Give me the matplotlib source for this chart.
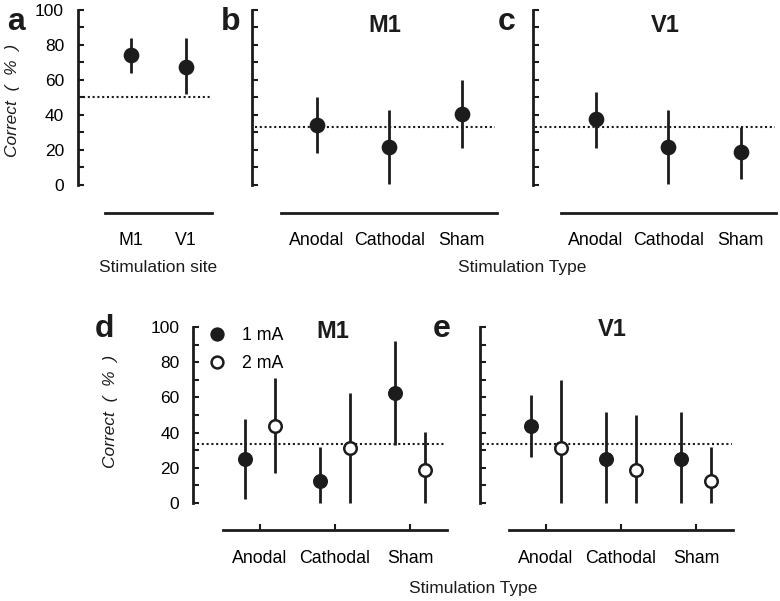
import numpy as np
import matplotlib
matplotlib.use('Agg')
import matplotlib.pyplot as plt

plt.rcParams['font.family'] = ['Liberation Sans', 'DejaVu Sans']

# ---- data ----
site_labels = ['M1', 'V1']
site_mean = [74.0, 67.5]
site_lo = [64.0, 52.0]
site_hi = [84.0, 84.0]

type_labels = ['Anodal', 'Cathodal', 'Sham']
m1_mean = [34.3, 21.9, 40.6]
m1_lo = [18.0, 0.5, 21.0]
m1_hi = [50.0, 43.0, 60.0]
v1_mean = [37.5, 21.9, 18.7]
v1_lo = [21.3, 0.5, 3.4]
v1_hi = [53.3, 43.0, 33.3]

m1_1ma_mean = [24.7, 12.4, 62.4]
m1_1ma_lo = [2.1, 0.0, 32.9]
m1_1ma_hi = [47.7, 31.9, 92.4]
m1_2ma_mean = [43.7, 31.4, 18.6]
m1_2ma_lo = [16.8, 0.0, 0.0]
m1_2ma_hi = [70.9, 62.7, 40.5]

v1_1ma_mean = [43.7, 24.7, 24.7]
v1_1ma_lo = [25.9, 0.0, 0.0]
v1_1ma_hi = [61.4, 51.9, 51.9]
v1_2ma_mean = [31.0, 18.6, 12.4]
v1_2ma_lo = [0.0, 0.0, 0.0]
v1_2ma_hi = [70.0, 50.0, 31.9]

chance_site = 50.0
chance_type = 100.0 / 3

W, H = 780, 601
INK = '#1c1c1c'
fig = plt.figure(figsize=(W / 100, H / 100), dpi=100)


def px_axes(l, r, t, b):
    return fig.add_axes([l / W, 1 - b / H, (r - l) / W, (b - t) / H])


def ptext(x, y, s, **kw):
    fig.text(x / W, 1 - y / H, s, ha='center', va='center', **kw)


def style(ax, xlim, xbounds, ticks_up, ylabels=True):
    ax.set_xlim(*xlim)
    ax.set_ylim(0, 100)
    for s in ['top', 'right']:
        ax.spines[s].set_visible(False)
    ax.spines['left'].set_linewidth(2)
    ax.spines['bottom'].set_linewidth(2)
    ax.spines['bottom'].set_position(('outward', 20))
    ax.spines['bottom'].set_bounds(*xbounds)
    ax.spines['left'].set_color(INK)
    ax.spines['bottom'].set_color(INK)
    ax.set_yticks(np.arange(0, 101, 20))
    ax.set_yticks(np.arange(10, 100, 20), minor=True)
    ax.tick_params(axis='y', which='both', direction='in', length=4, width=1.5,
                   color=INK, labelsize=12.5, pad=10, labelleft=ylabels)
    ax.tick_params(axis='x', direction='in', length=4 if ticks_up else 0,
                   width=1.5, color=INK, labelsize=12.8, pad=14)
    ax.patch.set_alpha(0)


def errs(ax, x, mean, lo, hi, face, ms):
    mean = np.asarray(mean)
    yerr = [mean - np.asarray(lo), np.asarray(hi) - mean]
    ax.errorbar(x, mean, yerr=yerr, fmt='o', ms=ms, mfc=face, mec=INK,
                mew=1.8, color=INK, elinewidth=2, capsize=0, clip_on=False,
                zorder=3)


# ---- panel a ----
ax = px_axes(78, 215, 10, 185)
xs = np.arange(len(site_labels))
errs(ax, xs, site_mean, site_lo, site_hi, INK, 9.5)
ax.axhline(chance_site, 0.036, 0.978, color=INK, ls=(0, (1, 1.3)), lw=1.5)
style(ax, (-0.964, 1.527), (-0.473, 1.473), False)
ax.set_xticks(xs)
ax.set_xticklabels(site_labels)

# ---- panel b / c ----
xs = np.arange(len(type_labels))
for (l, r, pos0, step), mean, lo, hi, span in [
        ((252, 497, 316.7, 72.5), m1_mean, m1_lo, m1_hi, (0.012, 0.992)),
        ((532.7, 776, 596, 72.3), v1_mean, v1_lo, v1_hi, (0.01, 0.996))]:
    ax = px_axes(l, r, 10, 185)
    errs(ax, xs, mean, lo, hi, INK, 9.5)
    ax.axhline(chance_type, *span, color=INK, ls=(0, (1, 1.3)), lw=1.5)
    style(ax, ((l - pos0) / step, 2 + (r - pos0 - 2 * step) / step),
          (-0.49, 2 + (r - pos0 - 2 * step) / step), False, ylabels=False)
    ax.set_xticks(xs)
    ax.set_xticklabels(type_labels)

# ---- panel d / e ----
off = 0.2
for (l, r, pos0), m1, m2, span, lab in [
        ((193.3, 447.3, 260), (m1_1ma_mean, m1_1ma_lo, m1_1ma_hi),
         (m1_2ma_mean, m1_2ma_lo, m1_2ma_hi), (0.015, 0.988), True),
        ((480, 733, 546), (v1_1ma_mean, v1_1ma_lo, v1_1ma_hi),
         (v1_2ma_mean, v1_2ma_lo, v1_2ma_hi), (0.008, 0.995), False)]:
    ax = px_axes(l, r, 327.3, 502.7)
    errs(ax, xs - off, *m1, INK, 9)
    errs(ax, xs + off, *m2, 'white', 9)
    ax.axhline(chance_type, *span, color=INK, ls=(0, (1, 1.3)), lw=1.5)
    step = 75.0
    right = 2 + (r - pos0 - 2 * step) / step
    style(ax, ((l - pos0) / step, right), (-0.5, right), True, ylabels=lab)
    ax.set_xticks(xs)
    ax.set_xticklabels(type_labels)
    if lab:
        h1 = plt.Line2D([], [], ls='none', marker='o', ms=8.5, mfc=INK, mec=INK, mew=1.8)
        h2 = plt.Line2D([], [], ls='none', marker='o', ms=8.5, mfc='white', mec=INK, mew=1.8)
        ax.legend([h1, h2], ['1 mA', '2 mA'], loc='upper left',
                  bbox_to_anchor=(0.06, 1.0), frameon=False, fontsize=12.8,
                  handlelength=1.0, handletextpad=0.9, labelspacing=0.6,
                  borderaxespad=0, borderpad=0)

# ---- texts ----
lab_kw = dict(fontsize=23, fontweight='bold', color=INK)
ptext(16, 22, 'a', **lab_kw)
ptext(231, 22, 'b', **lab_kw)
ptext(507, 22, 'c', **lab_kw)
ptext(104, 329, 'd', **lab_kw)
ptext(442, 329, 'e', **lab_kw)

ttl_kw = dict(fontsize=17, fontweight='bold', color=INK)
ptext(385, 25, 'M1', **ttl_kw)
ptext(665, 25, 'V1', **ttl_kw)
ptext(333, 332, 'M1', **ttl_kw)
ptext(612, 330, 'V1', **ttl_kw)

ylab = 'Correct  (  %  )'
ptext(13, 100, ylab, rotation=90, style='italic', fontsize=12.5, color=INK)
ptext(110, 411, ylab, rotation=90, style='italic', fontsize=12.5, color=INK)

ptext(158, 267, 'Stimulation site', fontsize=12.5, color=INK)
ptext(522, 267, 'Stimulation Type', fontsize=12.5, color=INK)
ptext(473, 588, 'Stimulation Type', fontsize=12.5, color=INK)

fig.savefig('out.png', dpi=100)
